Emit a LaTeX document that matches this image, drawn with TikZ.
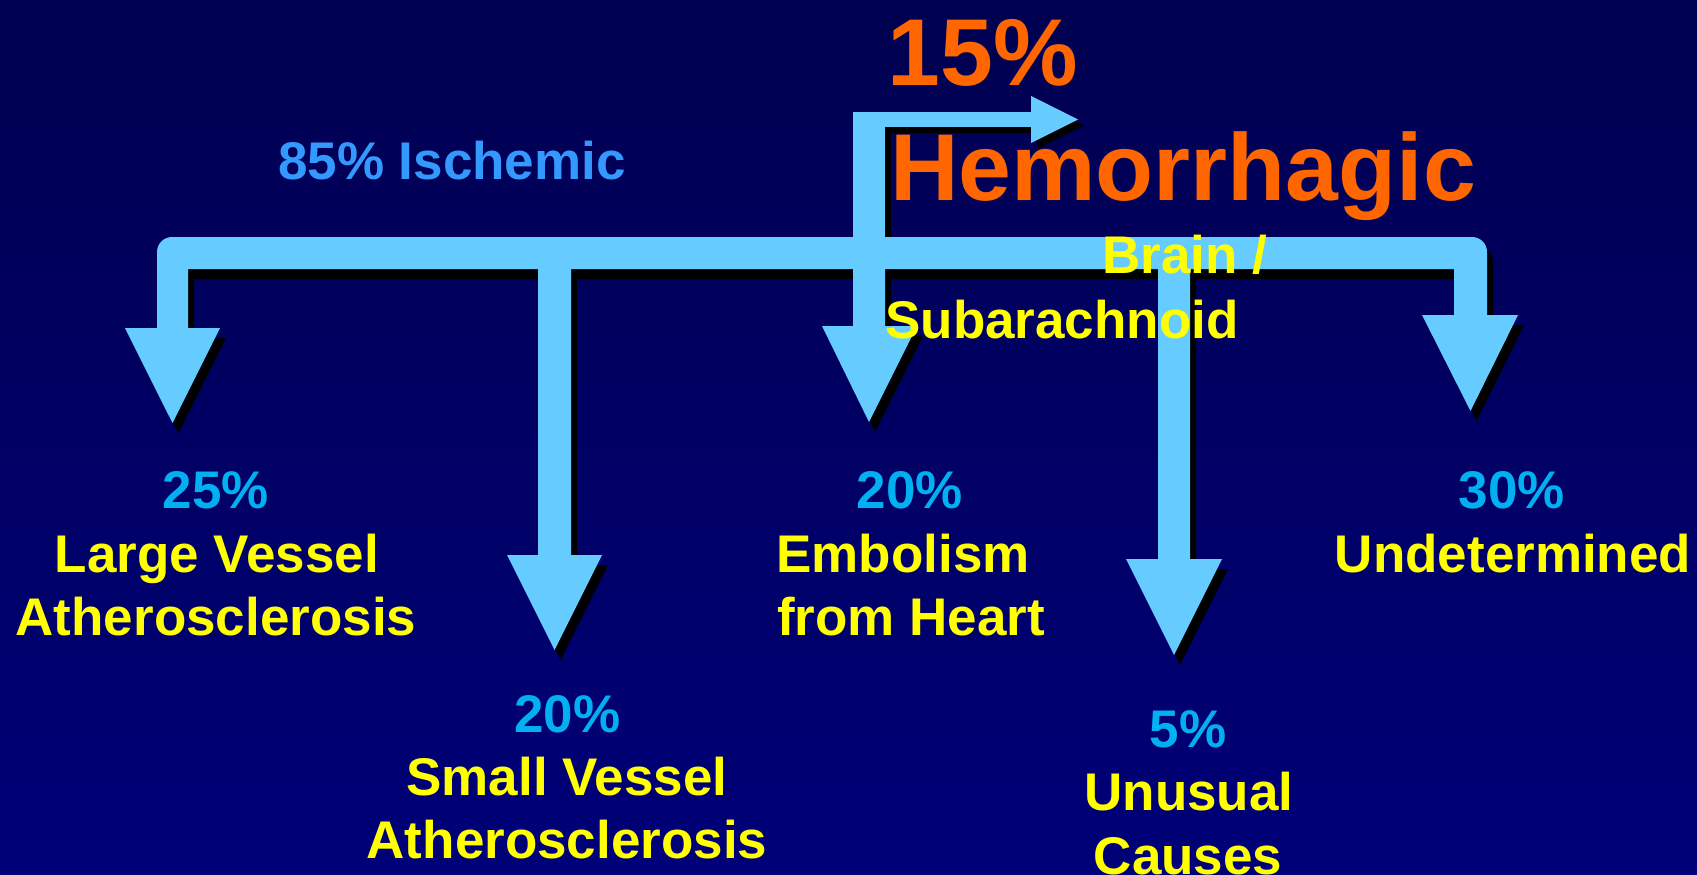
\documentclass[tikz,border=0pt]{standalone}
\usepackage{fontspec}
\setmainfont{Liberation Sans}
\definecolor{arrowblue}{RGB}{102,204,255}
\definecolor{hemorange}{RGB}{255,102,0}
\definecolor{labelyellow}{RGB}{255,255,0}
\definecolor{pctblue}{RGB}{0,176,240}
\definecolor{ischblue}{RGB}{51,153,255}
\definecolor{bgtop}{RGB}{0,0,80}
\definecolor{bgbottom}{RGB}{0,0,120}
\tikzset{
  lbl/.style={font=\bfseries\fontsize{53}{64}\selectfont, inner sep=0pt, anchor=base, text=labelyellow},
  pct/.style={lbl, text=pctblue},
  bigorange/.style={font=\bfseries\fontsize{95}{110}\selectfont, inner sep=0pt, anchor=base, text=hemorange}
}
\begin{document}
\begin{tikzpicture}[x=1pt,y=-1pt]
\useasboundingbox (0,0) rectangle (1697,875);
\shade[top color=bgtop, bottom color=bgbottom] (0,0) rectangle (1697,875);

% shadows first (black), then the light blue arrows
\foreach \dx/\dy/\hy/\col in {6/10/6/black, 0/0/0/arrowblue}{
  % main rake with stems
  \fill[fill=\col, shift={(\dx,\dy)}]
    (157,328) -- (157,252) .. controls (157,243.7) and (163.7,237) .. (172,237)
    -- (1472,237) .. controls (1480.3,237) and (1487,243.7) .. (1487,252)
    -- (1487,315) -- (1454,315) -- (1454,269)
    -- (1190,269) -- (1190,559) -- (1158,559) -- (1158,269)
    -- (885,269) -- (885,326) -- (853,326) -- (853,269)
    -- (571,269) -- (571,555) -- (538,555) -- (538,269)
    -- (188,269) -- (188,328) -- cycle;
  % arrow heads
  \fill[fill=\col, shift={(\dx,\dy)}] (125,328) -- (220,328) -- (172.5,423) -- cycle;
  \fill[fill=\col, shift={(\dx,\dy)}] (507,555) -- (602,555) -- (554.5,650) -- cycle;
  \fill[fill=\col, shift={(\dx,\dy)}] (822,326) -- (917,326) -- (869,422) -- cycle;
  \fill[fill=\col, shift={(\dx,\dy)}] (1126,559) -- (1222,559) -- (1174,655) -- cycle;
  \fill[fill=\col, shift={(\dx,\dy)}] (1422,315) -- (1518,315) -- (1470.5,411) -- cycle;
  % hemorrhagic branch
  \fill[fill=\col, shift={(\dx,\hy)}] (853,112) rectangle (885,240);
  \fill[fill=\col, shift={(\dx,\hy)}] (853,112) rectangle (1032,127);
  \fill[fill=\col, shift={(\dx,\hy)}] (1031,96) -- (1078,119.5) -- (1031,143) -- cycle;
}

% texts
\node[bigorange] (p15) at (983,85) {15\%};
\node[bigorange] (hem) at (1183,200) {Hemorrhagic};
\node[lbl, text=ischblue] (isch) at (452,179) {85\% Ischemic};

\node[lbl] (brain) at (1185,273) {Brain /};
\node[lbl] (subar) at (1062,338) {Subarachnoid};

\node[pct] (p25) at (216,508) {25\%};
\node[lbl] (lv1) at (217,572) {Large Vessel};
\node[lbl] (lv2) at (216,635) {Atherosclerosis};

\node[pct] (p20a) at (567.5,732) {20\%};
\node[lbl] (sv1) at (567,795) {Small Vessel};
\node[lbl] (sv2) at (567,858) {Atherosclerosis};

\node[pct] (p20b) at (910,508) {20\%};
\node[lbl] (em1) at (903,572) {Embolism};
\node[lbl] (em2) at (911,635) {from Heart};

\node[pct] (p5) at (1188,747) {5\%};
\node[lbl] (un1) at (1189,810) {Unusual};
\node[lbl] (un2) at (1188,874) {Causes};

\node[pct] (p30) at (1512,508) {30\%};
\node[lbl] (und) at (1513,572) {Undetermined};
\end{tikzpicture}
\end{document}
